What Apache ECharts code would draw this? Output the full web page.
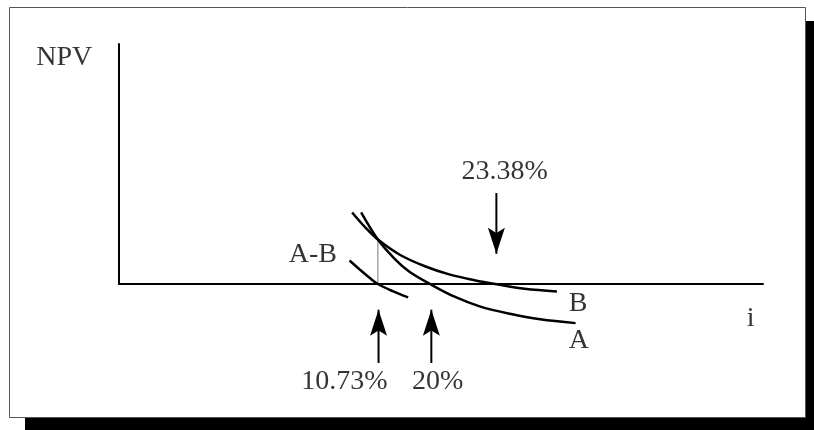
<!DOCTYPE html>
<html><head><meta charset="utf-8">
<script src="https://cdn.jsdelivr.net/npm/echarts@6/dist/echarts.min.js"></script>
<style>html,body{margin:0;padding:0;background:#fff}#c{width:814px;height:430px}</style>
</head><body><div id="c"></div>
<script>
// Schematic NPV profiles (abstract units: i on x 0..100, NPV on y 0..100)
const curveA  = [[37.6,29.8],[40.2,18.5],[42.8,10.5],[45.1,5.1],[48.3,0],[52.1,-5.3],[56.0,-9.3],[60.7,-12.4],[65.4,-14.7],[70.9,-16.3]];
const curveB  = [[36.2,29.8],[38.2,23.7],[40.2,18.5],[43.6,12.2],[47.5,7.4],[51.4,3.9],[55.2,1.6],[58.4,0],[63.0,-2.0],[68.0,-3.1]];
const curveAB = [[35.8,9.8],[37.4,6.0],[38.9,2.6],[40.2,0],[42.5,-3.0],[44.9,-5.6]];
const crossGuide = [[40.2,18.5],[40.2,0]];
const arrowsUp   = [[40.3,-32.9,-10.7],[48.5,-32.9,-10.7]];   // x, tail y, tip y
const arrowsDown = [[58.6,37.9,12.6]];
const labelNames = ['NPV','A-B','23.38%','B','A','i','10.73%','20%'];
const labelX     = [-8.5, 30.1, 59.9, 71.3, 71.4, 98.1, 35.0, 49.5];
const labelY     = [94.5, 12.2, 46.9, -8.1, -23.6, -14.6, -40.6, -40.6];

const UP = 'path://M50,0L100,100L50,80L0,100Z';
const DOWN = 'path://M0,0L50,20L100,0L50,100Z';

const curveSeries = (data) => ({
  type:'line', data, smooth:0.35, showSymbol:false, clip:false, silent:true,
  lineStyle:{color:'#000', width:2.5}, z:3
});
const arrowSeries = (a, up) => ({
  type:'line', clip:false, silent:true, showSymbol:true, symbol:'none',
  lineStyle:{color:'#000', width:2}, itemStyle:{color:'#000'}, z:4,
  data:[[a[0],a[1]], {value:[a[0],a[2]], symbol: up?UP:DOWN, symbolSize:[17,26], symbolOffset:[0, up?'50%':'-50%']}]
});

const series = [
  curveSeries(curveA), curveSeries(curveB), curveSeries(curveAB),
  {type:'line', data:crossGuide, showSymbol:false, clip:false, silent:true, lineStyle:{color:'#777', width:1}, z:2},
  ...arrowsUp.map(a=>arrowSeries(a,true)),
  ...arrowsDown.map(a=>arrowSeries(a,false)),
  {type:'scatter', clip:false, silent:true, symbolSize:1, itemStyle:{color:'rgba(0,0,0,0)'},
   data: labelNames.map((n,i)=>({name:n, value:[labelX[i], labelY[i]]})),
   label:{show:true, position:'inside', formatter:'{b}', color:'#000', fontSize:28,
          fontFamily:'Liberation Serif', align:'center', verticalAlign:'middle'}, z:5}
];

const chart = echarts.init(document.getElementById('c'), null, {renderer:'canvas'});
chart.setOption({
  animation:false,
  backgroundColor:'#fff',
  graphic:[
    {type:'rect', silent:true, z:-100, shape:{x:25, y:21, width:796, height:411}, style:{fill:'#000'}},
    {type:'rect', silent:true, z:-99, shape:{x:9.5, y:7.5, width:796, height:410}, style:{fill:'#fff', stroke:'#555', lineWidth:1}}
  ],
  grid:{left:119, top:44, right:51, bottom:146},
  xAxis:{type:'value', min:0, max:100, axisLine:{show:true, onZero:false, lineStyle:{color:'#000', width:2}},
         axisTick:{show:false}, axisLabel:{show:false}, splitLine:{show:false}},
  yAxis:{type:'value', min:0, max:100, axisLine:{show:true, onZero:false, lineStyle:{color:'#000', width:2}},
         axisTick:{show:false}, axisLabel:{show:false}, splitLine:{show:false}},
  series
});
</script></body></html>
